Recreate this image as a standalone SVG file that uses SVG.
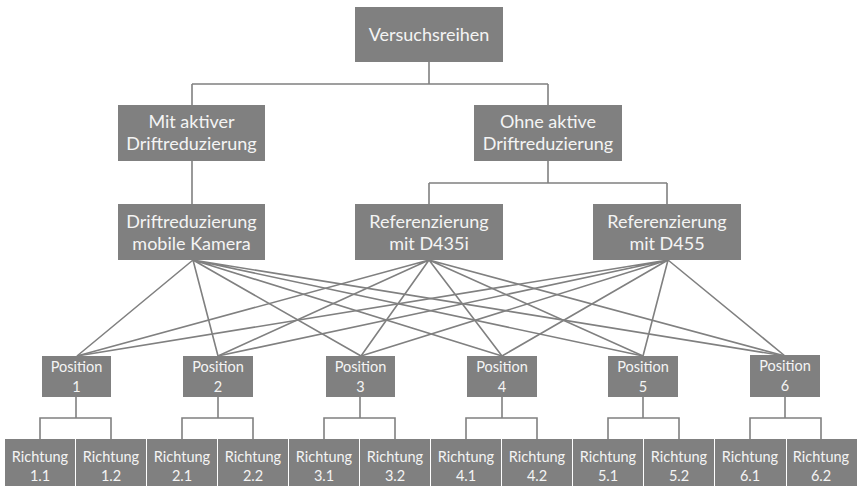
<svg xmlns="http://www.w3.org/2000/svg" width="857" height="486" viewBox="0 0 857 486">
  <style>
    .box { fill: #808080; }
    .lbl { fill: #f4f4f4; font-family: Lato, "Open Sans", sans-serif; text-anchor: middle; }
    .big { font-size: 18px; }
    .small { font-size: 14.5px; }
    .wire { fill: none; stroke: #808080; stroke-width: 1.6; }
  </style>

  <!-- connectors -->
  <g id="connectors" class="wire">
    <!-- tree top -->
    <path d="M429 62 V84 M192 84 H548 M192 84 V105 M548 84 V105"/>
    <path d="M192 161 V204"/>
    <path d="M548 161 V183 M429 183 H667 M429 183 V204 M667 183 V204"/>
    <!-- fan: Driftreduzierung mobile Kamera -->
    <path d="M193 260 L77 356 M193 260 L218 356 M193 260 L361 356 M193 260 L502 356 M193 260 L643 356 M193 260 L785 356"/>
    <!-- fan: Referenzierung mit D435i -->
    <path d="M429 260 L77 356 M429 260 L218 356 M429 260 L361 356 M429 260 L502 356 M429 260 L643 356 M429 260 L785 356"/>
    <!-- fan: Referenzierung mit D455 -->
    <path d="M668 260 L77 356 M668 260 L218 356 M668 260 L361 356 M668 260 L502 356 M668 260 L643 356 M668 260 L785 356"/>
    <!-- positions to directions -->
    <path d="M76 397 V418 M40 439 V418 H111 V439"/>
    <path d="M218 397 V418 M182 439 V418 H253 V439"/>
    <path d="M360 397 V418 M324 439 V418 H395 V439"/>
    <path d="M502 397 V418 M466 439 V418 H537 V439"/>
    <path d="M643 397 V418 M608 439 V418 H679 V439"/>
    <path d="M785 397 V418 M750 439 V418 H821 V439"/>
  </g>

  <!-- top level -->
  <g id="versuchsreihen">
    <rect class="box" x="355" y="7" width="148" height="55"/>
    <text class="lbl big" x="429" y="41">Versuchsreihen</text>
  </g>

  <g id="mit-aktiver">
    <rect class="box" x="118" y="105" width="147" height="56"/>
    <text class="lbl big" x="191.5" y="128">Mit aktiver</text>
    <text class="lbl big" x="191.5" y="150">Driftreduzierung</text>
  </g>

  <g id="ohne-aktive">
    <rect class="box" x="474" y="105" width="148" height="56"/>
    <text class="lbl big" x="548" y="128">Ohne aktive</text>
    <text class="lbl big" x="548" y="150">Driftreduzierung</text>
  </g>

  <g id="drift-mobil">
    <rect class="box" x="118" y="204" width="147" height="56"/>
    <text class="lbl big" x="191.5" y="228">Driftreduzierung</text>
    <text class="lbl big" x="191.5" y="250">mobile Kamera</text>
  </g>

  <g id="ref-d435i">
    <rect class="box" x="355" y="204" width="148" height="56"/>
    <text class="lbl big" x="429" y="228">Referenzierung</text>
    <text class="lbl big" x="429" y="250">mit D435i</text>
  </g>

  <g id="ref-d455">
    <rect class="box" x="593" y="204" width="148" height="56"/>
    <text class="lbl big" x="667" y="228">Referenzierung</text>
    <text class="lbl big" x="667" y="250">mit D455</text>
  </g>

  <!-- positions -->
  <g id="pos1">
    <rect class="box" x="42" y="356" width="69" height="41"/>
    <text class="lbl small" x="76.5" y="372">Position</text>
    <text class="lbl small" x="76.5" y="392">1</text>
  </g>
  <g id="pos2">
    <rect class="box" x="183" y="356" width="70" height="41"/>
    <text class="lbl small" x="218" y="372">Position</text>
    <text class="lbl small" x="218" y="392">2</text>
  </g>
  <g id="pos3">
    <rect class="box" x="326" y="356" width="69" height="41"/>
    <text class="lbl small" x="360.5" y="372">Position</text>
    <text class="lbl small" x="360.5" y="392">3</text>
  </g>
  <g id="pos4">
    <rect class="box" x="467" y="356" width="70" height="41"/>
    <text class="lbl small" x="502" y="372">Position</text>
    <text class="lbl small" x="502" y="392">4</text>
  </g>
  <g id="pos5">
    <rect class="box" x="608" y="356" width="70" height="41"/>
    <text class="lbl small" x="643" y="372">Position</text>
    <text class="lbl small" x="643" y="392">5</text>
  </g>
  <g id="pos6">
    <rect class="box" x="750" y="355" width="70" height="42"/>
    <text class="lbl small" x="785" y="371">Position</text>
    <text class="lbl small" x="785" y="391">6</text>
  </g>

  <!-- directions -->
  <g id="r1-1"><rect class="box" x="5" y="439" width="70" height="47"/><text class="lbl small" x="40" y="462">Richtung</text><text class="lbl small" x="40" y="481">1.1</text></g>
  <g id="r1-2"><rect class="box" x="76" y="439" width="70" height="47"/><text class="lbl small" x="111" y="462">Richtung</text><text class="lbl small" x="111" y="481">1.2</text></g>
  <g id="r2-1"><rect class="box" x="147" y="439" width="70" height="47"/><text class="lbl small" x="182" y="462">Richtung</text><text class="lbl small" x="182" y="481">2.1</text></g>
  <g id="r2-2"><rect class="box" x="218" y="439" width="70" height="47"/><text class="lbl small" x="253" y="462">Richtung</text><text class="lbl small" x="253" y="481">2.2</text></g>
  <g id="r3-1"><rect class="box" x="289" y="439" width="70" height="47"/><text class="lbl small" x="324" y="462">Richtung</text><text class="lbl small" x="324" y="481">3.1</text></g>
  <g id="r3-2"><rect class="box" x="360" y="439" width="70" height="47"/><text class="lbl small" x="395" y="462">Richtung</text><text class="lbl small" x="395" y="481">3.2</text></g>
  <g id="r4-1"><rect class="box" x="431" y="439" width="70" height="47"/><text class="lbl small" x="466" y="462">Richtung</text><text class="lbl small" x="466" y="481">4.1</text></g>
  <g id="r4-2"><rect class="box" x="502" y="439" width="70" height="47"/><text class="lbl small" x="537" y="462">Richtung</text><text class="lbl small" x="537" y="481">4.2</text></g>
  <g id="r5-1"><rect class="box" x="573" y="439" width="70" height="47"/><text class="lbl small" x="608" y="462">Richtung</text><text class="lbl small" x="608" y="481">5.1</text></g>
  <g id="r5-2"><rect class="box" x="644" y="439" width="70" height="47"/><text class="lbl small" x="679" y="462">Richtung</text><text class="lbl small" x="679" y="481">5.2</text></g>
  <g id="r6-1"><rect class="box" x="715" y="439" width="71" height="47"/><text class="lbl small" x="750" y="462">Richtung</text><text class="lbl small" x="750" y="481">6.1</text></g>
  <g id="r6-2"><rect class="box" x="787" y="439" width="70" height="47"/><text class="lbl small" x="821" y="462">Richtung</text><text class="lbl small" x="821" y="481">6.2</text></g>
</svg>
